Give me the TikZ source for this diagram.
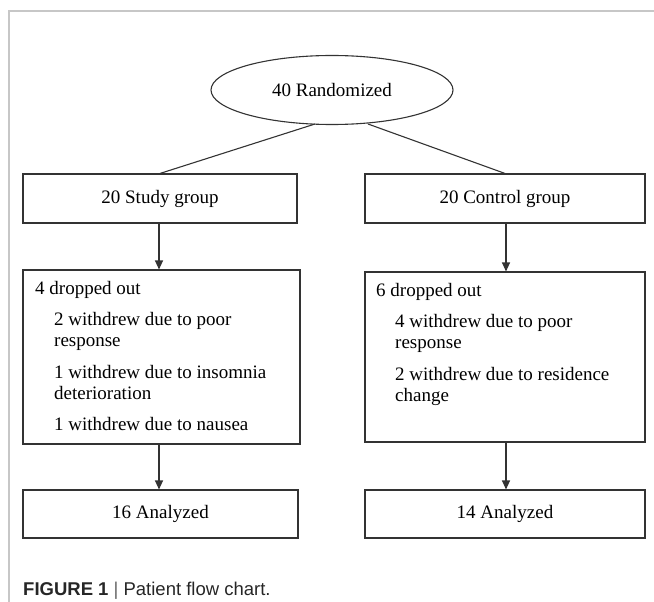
\documentclass[tikz,border=0pt]{standalone}
\usepackage{fontspec}
\setmainfont{Liberation Serif}
\newfontfamily\capfont{Liberation Sans}
\usetikzlibrary{shapes.geometric,arrows.meta}

\newcommand\bodyfont{\fontsize{19bp}{21bp}\selectfont}
\newcommand\ind{\hspace*{19bp}}

\tikzset{
	box/.style={draw=black!80, line width=1.1bp, inner sep=0pt, font=\bodyfont},
	boxtext/.style={anchor=north west, align=left, inner sep=0pt, font=\bodyfont},
	flowline/.style={draw=black!80, line width=1.1bp},
	flowarrow/.style={flowline, -{Triangle[length=9bp,width=8bp]}},
	frameline/.style={draw=black!22, line width=1.2bp}
}

\begin{document}
\begin{tikzpicture}[x=1bp, y=-1bp]
	\useasboundingbox (0,0) rectangle (654,602);

	% frame
	\draw[frameline] (9,602) -- (9,11) -- (654,11);

	% randomized
	\node[box, ellipse, minimum width=242bp, minimum height=69bp] (rand) at (332,90) {40 Randomized};

	% groups
	\node[box, minimum width=274bp, minimum height=49bp] (study) at (160,198.5) {20 Study group};
	\node[box, minimum width=280bp, minimum height=49bp] (control) at (505,198.5) {20 Control group};

	\coordinate (splitL) at (315,124);
	\coordinate (splitR) at (368,124);
	\draw[flowline] (splitL) -- (study.north);
	\draw[flowline] (splitR) -- (control.north);

	% dropped out
	\node[box, minimum width=277bp, minimum height=174bp] (dropL) at (161.5,357) {};
	\node[box, minimum width=280bp, minimum height=170bp] (dropR) at (505,357) {};

	\node[boxtext] (dropLtext) at (35,281) {4 dropped out\\[10.5bp]
		\ind 2 withdrew due to poor\\
		\ind response\\[10.5bp]
		\ind 1 withdrew due to insomnia\\
		\ind deterioration\\[10.5bp]
		\ind 1 withdrew due to nausea};
	\node[boxtext] (dropRtext) at (376,283) {6 dropped out\\[10.5bp]
		\ind 4 withdrew due to poor\\
		\ind response\\[10.5bp]
		\ind 2 withdrew due to residence\\
		\ind change};

	\draw[flowarrow] (study.south -| 159,0) -- (dropL.north -| 159,0);
	\draw[flowarrow] (control.south -| 506,0) -- (dropR.north -| 506,0);

	% analyzed
	\node[box, minimum width=275bp, minimum height=48bp] (endL) at (160.5,514) {16 Analyzed};
	\node[box, minimum width=280bp, minimum height=48bp] (endR) at (505,514) {14 Analyzed};

	\draw[flowarrow] (dropL.south -| 159,0) -- (endL.north -| 159,0);
	\draw[flowarrow] (dropR.south -| 506,0) -- (endR.north -| 506,0);

	% caption
	\node[anchor=base west, inner sep=0pt, text=black!85, font=\capfont\fontsize{18.5bp}{21bp}\selectfont] (caption) at (23,595) {\textbf{FIGURE 1} {\color{black!60}|} Patient flow chart.};
\end{tikzpicture}
\end{document}
